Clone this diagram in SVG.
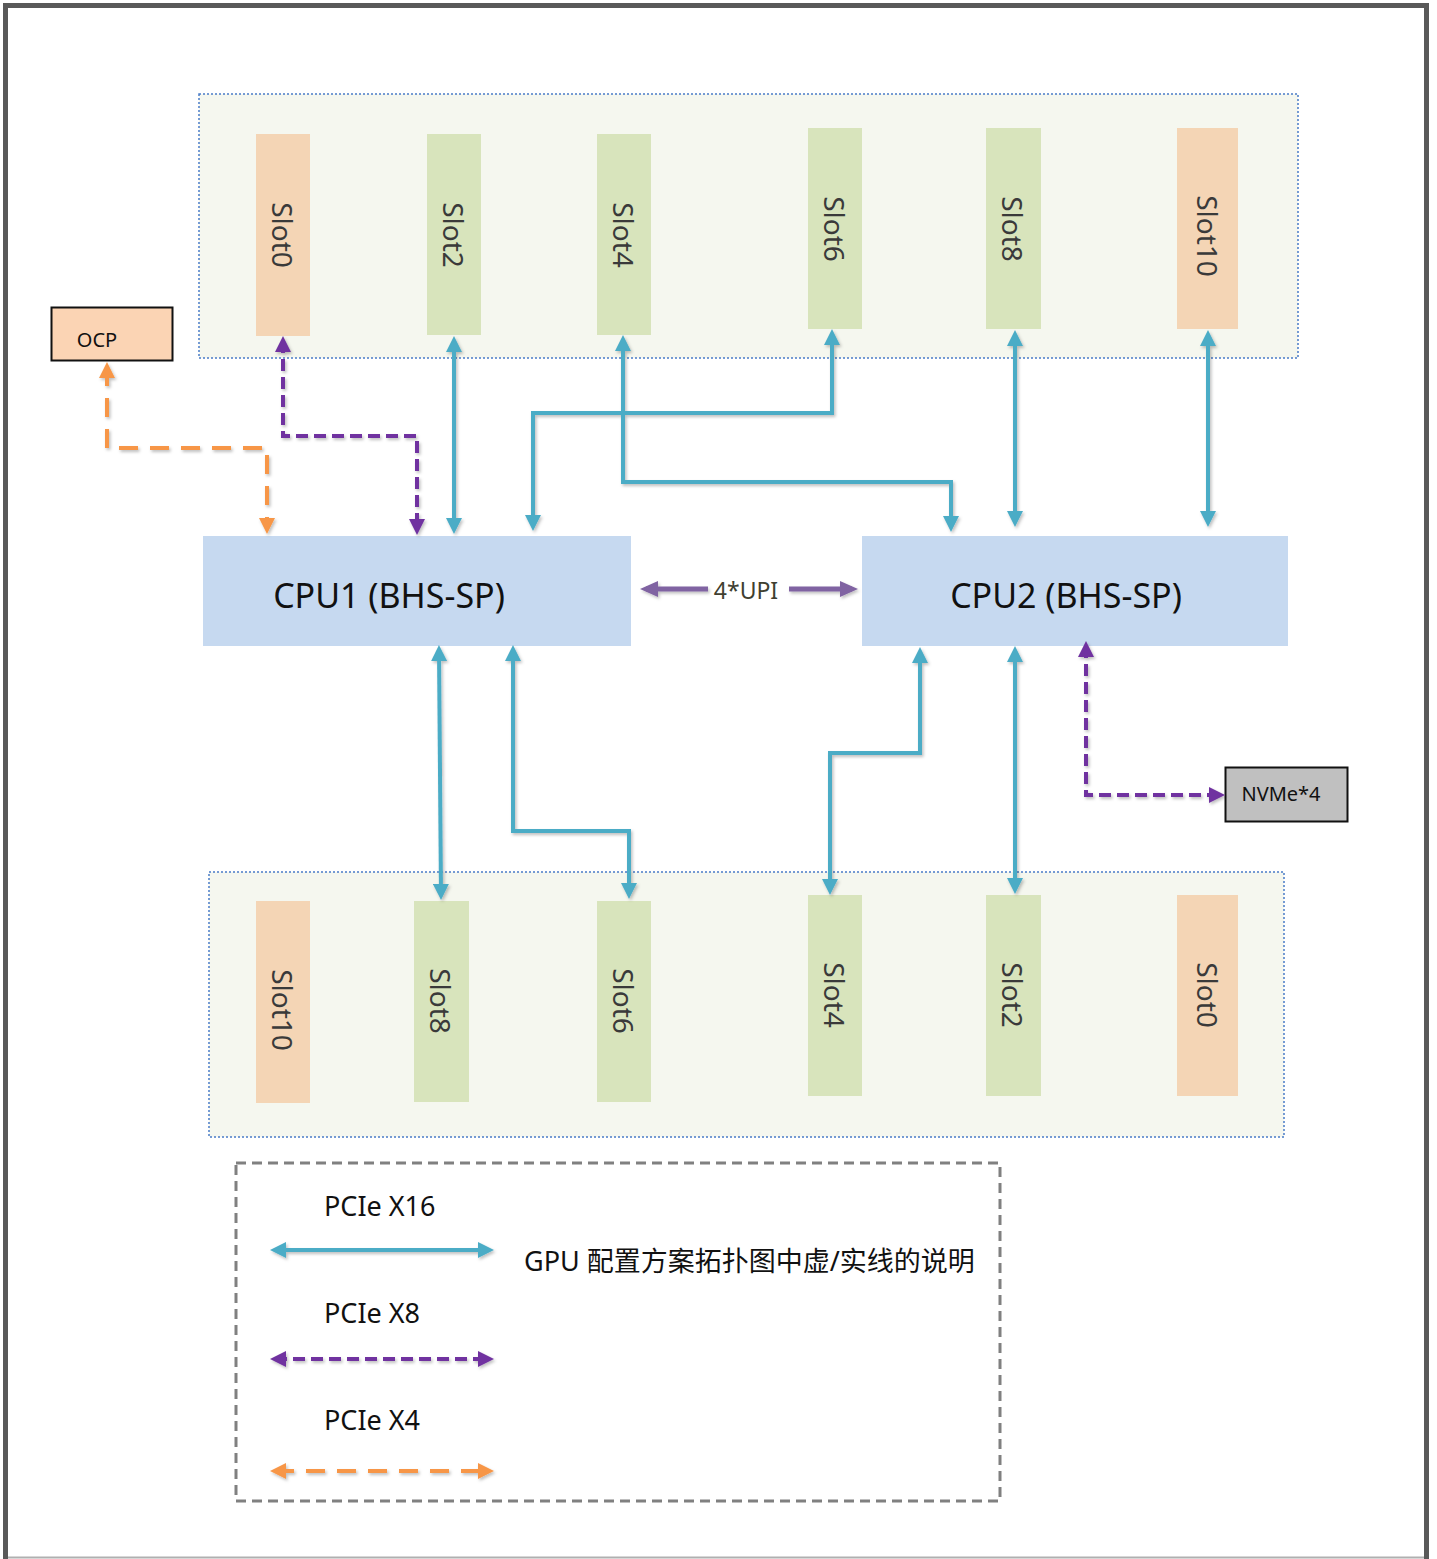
<svg xmlns="http://www.w3.org/2000/svg" width="1437" height="1559" viewBox="0 0 1437 1559">
<style>
.panel{fill:#f5f7ef;stroke:#4a7cc8;stroke-width:1.5;stroke-dasharray:2 2}
.peach{fill:#f4d5b5}
.green{fill:#d8e4bc}
.slotText{font-family:"Noto Sans","Open Sans","DejaVu Sans",sans-serif;font-size:28px;fill:#3a3a3a;text-anchor:middle;dominant-baseline:central}
.cpu{fill:#c6d9f0}
.cpuText{font-family:"Noto Sans","Open Sans","DejaVu Sans",sans-serif;font-size:34px;fill:#111;text-anchor:middle;dominant-baseline:central}
.boxText{font-family:"Noto Sans","Open Sans","DejaVu Sans",sans-serif;font-size:20px;fill:#111;text-anchor:middle;dominant-baseline:central}
.legText{font-family:"Noto Sans","Noto Sans CJK SC","Open Sans",sans-serif;font-size:27px;fill:#111}
.x16{fill:none;stroke:#4bacc6;stroke-width:4;marker-start:url(#aBlue);marker-end:url(#aBlue)}
.x8{fill:none;stroke:#7030a0;stroke-width:4;stroke-dasharray:12 6;marker-start:url(#aPurple);marker-end:url(#aPurple)}
.x4{fill:none;stroke:#f79646;stroke-width:4;stroke-dasharray:19 12;marker-start:url(#aOrange);marker-end:url(#aOrange)}
.upi{fill:none;stroke:#8064a2;stroke-width:5}
</style>
<defs>
<marker id="aBlue" markerUnits="userSpaceOnUse" viewBox="0 0 16 16" refX="11" refY="8" markerWidth="16" markerHeight="16" orient="auto-start-reverse"><path d="M0,0 L16,8 L0,16 z" fill="#4bacc6"/></marker>
<marker id="aPurple" markerUnits="userSpaceOnUse" viewBox="0 0 16 16" refX="11" refY="8" markerWidth="16" markerHeight="16" orient="auto-start-reverse"><path d="M0,0 L16,8 L0,16 z" fill="#7030a0"/></marker>
<marker id="aOrange" markerUnits="userSpaceOnUse" viewBox="0 0 16 16" refX="11" refY="8" markerWidth="16" markerHeight="16" orient="auto-start-reverse"><path d="M0,0 L16,8 L0,16 z" fill="#f79646"/></marker>
<marker id="aUpi" markerUnits="userSpaceOnUse" viewBox="0 0 18 16" refX="12" refY="8" markerWidth="18" markerHeight="16" orient="auto-start-reverse"><path d="M0,0 L18,8 L0,16 z" fill="#8064a2"/></marker>
<filter id="sh" x="-10%" y="-10%" width="130%" height="130%"><feDropShadow dx="1.5" dy="2" stdDeviation="1.5" flood-color="#000" flood-opacity="0.25"/></filter>
</defs>

<rect x="0" y="0" width="1437" height="1559" fill="#fff"/>
<g id="frame">
<path d="M5.5,1559 V5.5 H1426.5 V1559" fill="none" stroke="#595959" stroke-width="5"/>
<line x1="8" y1="1557.5" x2="1424" y2="1557.5" stroke="#b0b0b0" stroke-width="2"/>
</g>

<g id="top-panel"><rect class="panel" x="199" y="94" width="1099" height="264"/></g>
<g id="bottom-panel"><rect class="panel" x="209" y="872" width="1075" height="265"/></g>

<g id="top-slot0"><rect class="peach" x="256" y="134" width="54" height="202"/><text class="slotText" transform="translate(283,235) rotate(90)">Slot0</text></g>
<g id="top-slot2"><rect class="green" x="427" y="134" width="54" height="201"/><text class="slotText" transform="translate(454,235) rotate(90)">Slot2</text></g>
<g id="top-slot4"><rect class="green" x="597" y="134" width="54" height="201"/><text class="slotText" transform="translate(624,235) rotate(90)">Slot4</text></g>
<g id="top-slot6"><rect class="green" x="808" y="128" width="54" height="201"/><text class="slotText" transform="translate(835,229) rotate(90)">Slot6</text></g>
<g id="top-slot8"><rect class="green" x="986" y="128" width="55" height="201"/><text class="slotText" transform="translate(1013,229) rotate(90)">Slot8</text></g>
<g id="top-slot10"><rect class="peach" x="1177" y="128" width="61" height="201"/><text class="slotText" transform="translate(1208,236) rotate(90)">Slot10</text></g>

<g id="bot-slot10"><rect class="peach" x="256" y="901" width="54" height="202"/><text class="slotText" transform="translate(283,1010) rotate(90)">Slot10</text></g>
<g id="bot-slot8"><rect class="green" x="414" y="901" width="55" height="201"/><text class="slotText" transform="translate(441,1001) rotate(90)">Slot8</text></g>
<g id="bot-slot6"><rect class="green" x="597" y="901" width="54" height="201"/><text class="slotText" transform="translate(624,1001) rotate(90)">Slot6</text></g>
<g id="bot-slot4"><rect class="green" x="808" y="895" width="54" height="201"/><text class="slotText" transform="translate(835,995) rotate(90)">Slot4</text></g>
<g id="bot-slot2"><rect class="green" x="986" y="895" width="55" height="201"/><text class="slotText" transform="translate(1013,995) rotate(90)">Slot2</text></g>
<g id="bot-slot0"><rect class="peach" x="1177" y="895" width="61" height="201"/><text class="slotText" transform="translate(1208,995) rotate(90)">Slot0</text></g>

<g id="cpu1"><rect class="cpu" x="203" y="536" width="428" height="110"/><text class="cpuText" x="389" y="595">CPU1 (BHS-SP)</text></g>
<g id="cpu2"><rect class="cpu" x="862" y="536" width="426" height="110"/><text class="cpuText" x="1066" y="595">CPU2 (BHS-SP)</text></g>

<g id="ocp"><rect x="51.5" y="307.5" width="121" height="53" fill="#fbd4b4" stroke="#111" stroke-width="2"/><text class="boxText" x="97" y="339">OCP</text></g>
<g id="nvme"><rect x="1225.5" y="767.5" width="122" height="54" fill="#c0c0c0" stroke="#111" stroke-width="2"/><text class="boxText" x="1281" y="793">NVMe*4</text></g>

<g id="connectors" filter="url(#sh)">
<path class="x16" d="M454,341 V529"/>
<path class="x16" d="M623,340 V482 H951 V527"/>
<path class="x16" d="M832,334 V413 H533 V526"/>
<path class="x16" d="M1015,335 V522"/>
<path class="x16" d="M1208,335 V522"/>
<path class="x16" d="M439,650 L441,895"/>
<path class="x16" d="M513,650 V831 H629 V894"/>
<path class="x16" d="M920,652 V753 H830 V890"/>
<path class="x16" d="M1015,651 V889"/>
<path class="x8" d="M283,341 V436 H417 V530"/>
<path class="x8" d="M1086,646 V795 H1220"/>
<path class="x4" d="M107,367 V448 H267 V529"/>
<path class="upi" d="M646,589 H708" marker-start="url(#aUpi)"/>
<path class="upi" d="M789,589 H852" marker-end="url(#aUpi)"/>
</g>
<text x="746" y="590" font-family="'Noto Sans','Open Sans',sans-serif" font-size="23" fill="#403f30" text-anchor="middle" dominant-baseline="central">4*UPI</text>

<g id="legend">
<rect x="236" y="1163" width="764" height="338" fill="none" stroke="#808080" stroke-width="3" stroke-dasharray="10 6"/>
<text class="legText" x="324" y="1216">PCIe X16</text>
<text class="legText" x="324" y="1323">PCIe X8</text>
<text class="legText" x="324" y="1430">PCIe X4</text>
<text class="legText" x="524" y="1271">GPU 配置方案拓扑图中虚/实线的说明</text>
<g filter="url(#sh)">
<path class="x16" d="M275,1250 H489"/>
<path class="x8" d="M275,1359 H489"/>
<path class="x4" d="M275,1471 H489"/>
</g>
</g>
</svg>
